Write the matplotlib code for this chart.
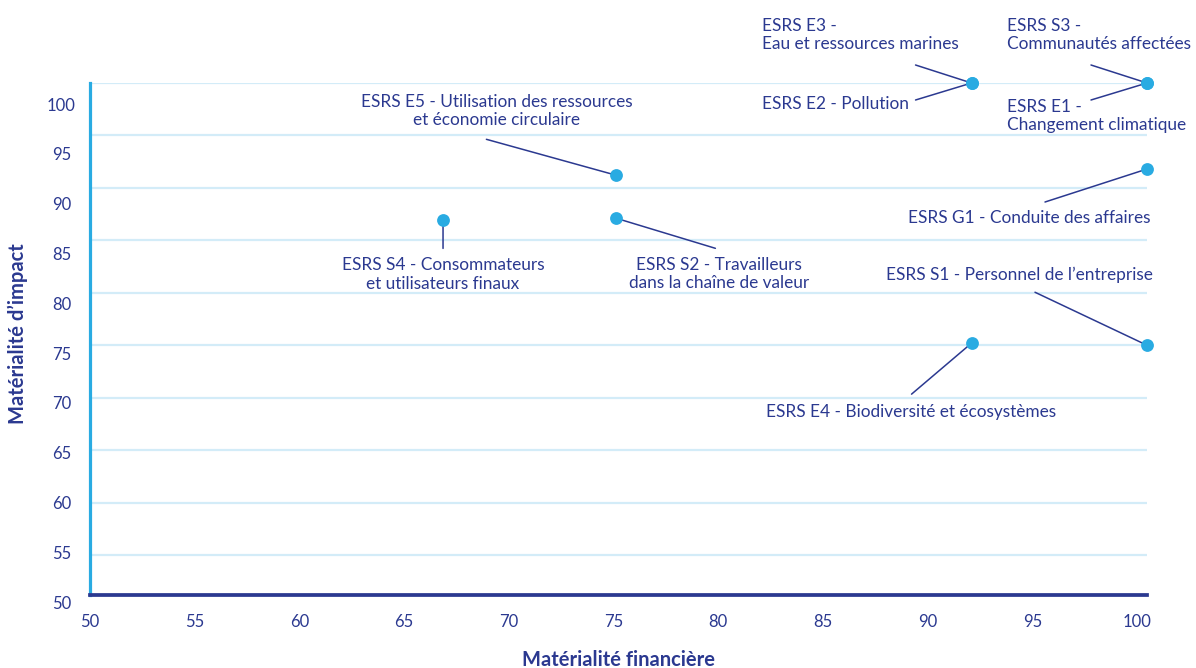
import matplotlib.pyplot as plt

plt.rcParams['font.family'] = ['Lato', 'DejaVu Sans']

NAVY = '#2B3990'
BLUE = '#29ABE2'
GRID = '#D3ECF8'

# data
labels = [
    'ESRS E3 -\nEau et ressources marines',
    'ESRS E2 - Pollution',
    'ESRS S3 -\nCommunautés affectées',
    'ESRS E1 -\nChangement climatique',
    'ESRS E5 - Utilisation des ressources\net économie circulaire',
    'ESRS S4 - Consommateurs\net utilisateurs finaux',
    'ESRS S2 - Travailleurs\ndans la chaîne de valeur',
    'ESRS G1 - Conduite des affaires',
    'ESRS S1 - Personnel de l’entreprise',
    'ESRS E4 - Biodiversité et écosystèmes',
]
fin = [91.7, 91.7, 100, 100, 74.9, 66.7, 74.9, 100, 100, 91.7]
imp = [100, 100, 100, 100, 91.2, 86.9, 87.1, 91.8, 75.0, 75.2]
ticks = list(range(50, 101, 5))

# layout: leader end offset (px), text offset (px), alignment
layout = [
    ((-56, 18), (-210, 48), 'left'),
    ((-56, -17), (-210, -21), 'left'),
    ((-56, 18), (-140, 48), 'left'),
    ((-56, -17), (-140, -33), 'left'),
    ((-130, 36), (-120, 64), 'center'),
    ((0, -28), (0, -54), 'center'),
    ((99, -30), (103, -56), 'center'),
    ((-102, -33), (4, -49), 'right'),
    ((-112, 53), (6, 70), 'right'),
    ((-60, -51), (-60, -69), 'center'),
]

fig = plt.figure(figsize=(11.96, 6.68), dpi=100)
ax = fig.add_axes([90 / 1196, 1 - 603.3 / 668, 1057 / 1196, 520.3 / 668])
ax.set_xlim(50, 100)
ax.set_ylim(50.4, 100)
y_axis = 51.19

ax.set_yticks(ticks[1:])
ax.set_xticks([])
ax.yaxis.grid(True, color=GRID, lw=1.6)
ax.set_axisbelow(True)
ax.tick_params(axis='y', length=0, labelleft=False)
ax.tick_params(axis='x', length=0, labelbottom=False)
for s in ['top', 'right']:
    ax.spines[s].set_visible(False)
ax.spines['left'].set_color(BLUE)
ax.spines['left'].set_linewidth(2.3)
ax.spines['left'].set_bounds(y_axis, 100)
ax.spines['bottom'].set_color(NAVY)
ax.spines['bottom'].set_linewidth(2.7)
ax.spines['bottom'].set_position(('data', y_axis))
ax.spines['bottom'].set_zorder(5)


# tick labels sit on a slightly different scale than the grid
def ya2b(a):
    return 100 - ((100 - a) * 10.489 - 21) / 9.96


def yb2a(b):
    return 100 - ((100 - b) * 9.96 + 21) / 10.489


def xa2b(a):
    return 50 + (a - 50) * 21.14 / 20.94


def xb2a(b):
    return 50 + (b - 50) * 20.94 / 21.14


secy = ax.secondary_yaxis('left', functions=(ya2b, yb2a))
secy.set_yticks(ticks)
secy.spines['left'].set_visible(False)
secy.tick_params(length=0, pad=20.5, labelsize=12, labelcolor=NAVY)
plt.setp(secy.get_yticklabels(), ha='center')

secx = ax.secondary_xaxis('bottom', functions=(xa2b, xb2a))
secx.set_xticks(ticks)
secx.spines['bottom'].set_visible(False)
secx.tick_params(length=0, pad=8, labelsize=12, labelcolor=NAVY)

ax.scatter(fin, imp, s=85, color=BLUE, linewidths=0, zorder=6, clip_on=False)

for x, y, lab, (ln, tx, ha) in zip(fin, imp, labels, layout):
    ax.annotate('', xy=(x, y), xytext=ln, textcoords='offset pixels',
                arrowprops=dict(arrowstyle='-', color=NAVY, lw=1.1,
                                shrinkA=0, shrinkB=0), zorder=5)
    ax.annotate(lab, xy=(x, y), xytext=tx, textcoords='offset pixels',
                ha=ha, va='center', multialignment=ha, fontsize=12.4,
                color=NAVY, linespacing=1.17, annotation_clip=False)

fig.text(619 / 1196, 1 - 660 / 668, 'Matérialité financière', ha='center',
         va='center', fontsize=14.5, fontweight='bold', color=NAVY)
fig.text(18 / 1196, 1 - 333.5 / 668, 'Matérialité d’impact', ha='center',
         va='center', rotation=90, fontsize=14.5, fontweight='bold', color=NAVY)

fig.savefig('out.png', dpi=100)
